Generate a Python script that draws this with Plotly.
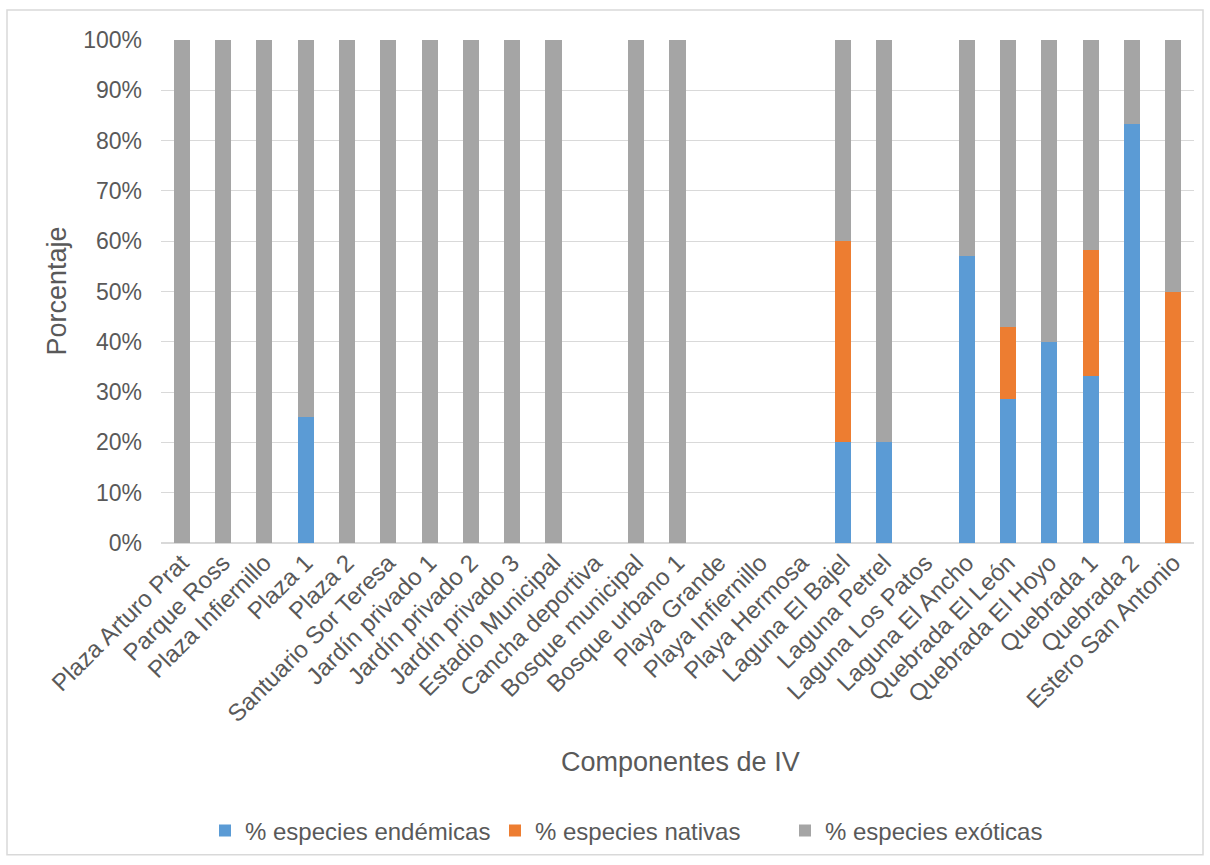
import plotly.graph_objects as go

categories = ["Plaza Arturo Prat", "Parque Ross", "Plaza Infiernillo", "Plaza 1", "Plaza 2",
              "Santuario Sor Teresa", "Jardín privado 1", "Jardín privado 2", "Jardín privado 3",
              "Estadio Municipal", "Cancha deportiva", "Bosque municipal", "Bosque urbano 1",
              "Playa Grande", "Playa Infiernillo", "Playa Hermosa", "Laguna El Bajel",
              "Laguna Petrel", "Laguna Los Patos", "Laguna El Ancho", "Quebrada El León",
              "Quebrada El Hoyo", "Quebrada 1", "Quebrada 2", "Estero San Antonio"]

endemicas = [0, 0, 0, 25, 0, 0, 0, 0, 0, 0, 0, 0, 0, 0, 0, 0, 20, 20, 0, 57.1, 28.6, 40, 33.3, 83.3, 0]
nativas   = [0, 0, 0, 0, 0, 0, 0, 0, 0, 0, 0, 0, 0, 0, 0, 0, 40, 0, 0, 0, 14.3, 0, 25, 0, 50]
exoticas  = [100, 100, 100, 75, 100, 100, 100, 100, 100, 100, 0, 100, 100, 0, 0, 0, 40, 80, 0, 42.9, 57.1, 60, 41.7, 16.7, 50]

series = [("% especies endémicas", endemicas, "#5B9BD5"),
          ("% especies nativas", nativas, "#ED7D31"),
          ("% especies exóticas", exoticas, "#A5A5A5")]

fig = go.Figure()
for name, vals, color in series:
    fig.add_trace(go.Bar(x=categories, y=[v / 100 for v in vals], name=name,
                         marker=dict(color=color, line=dict(width=0))))

font = "Liberation Sans, Arial, sans-serif"
txt = "#595959"
fig.update_layout(
    barmode="stack",
    bargap=0.61,
    width=1210, height=865,
    margin=dict(l=161, r=16, t=40, b=320),
    paper_bgcolor="white", plot_bgcolor="white",
    font=dict(family=font, size=23, color=txt),
    showlegend=True,
    legend=dict(orientation="h", x=(640 - 161) / 1033, xanchor="center",
                y=(545 - 834) / 505, yanchor="middle",
                font=dict(size=24, color=txt), traceorder="normal",
                itemwidth=30, entrywidth=245, entrywidthmode="pixels"),
    xaxis=dict(tickangle=-45, showgrid=False, showline=False, ticks="", automargin=False,
               tickfont=dict(size=24, color=txt)),
    yaxis=dict(range=[0, 1], tickformat=".0%", dtick=0.1, showgrid=True, automargin=False,
               gridcolor="#D9D9D9", gridwidth=1, zeroline=True, zerolinecolor="#D9D9D9",
               zerolinewidth=2, ticks="", tickfont=dict(size=23, color=txt),
               ticklabelstandoff=18),
    annotations=[
        dict(text="Porcentaje", xref="paper", yref="paper", x=(56 - 161) / 1033, y=0.5,
             textangle=-90, showarrow=False, font=dict(size=27, color=txt),
             xanchor="center", yanchor="middle"),
        dict(text="Componentes de IV", xref="paper", yref="paper", x=(680 - 161) / 1033,
             y=(545 - 765) / 505, showarrow=False, font=dict(size=27, color=txt),
             xanchor="center", yanchor="middle"),
    ],
    shapes=[dict(type="rect", xref="paper", yref="paper",
                 x0=(7 - 161) / 1033, x1=(1203 - 161) / 1033,
                 y0=(545 - 858) / 505, y1=(545 - 10) / 505,
                 line=dict(color="#D9D9D9", width=1.5), fillcolor="rgba(0,0,0,0)")],
)

fig.write_html("out.html")
